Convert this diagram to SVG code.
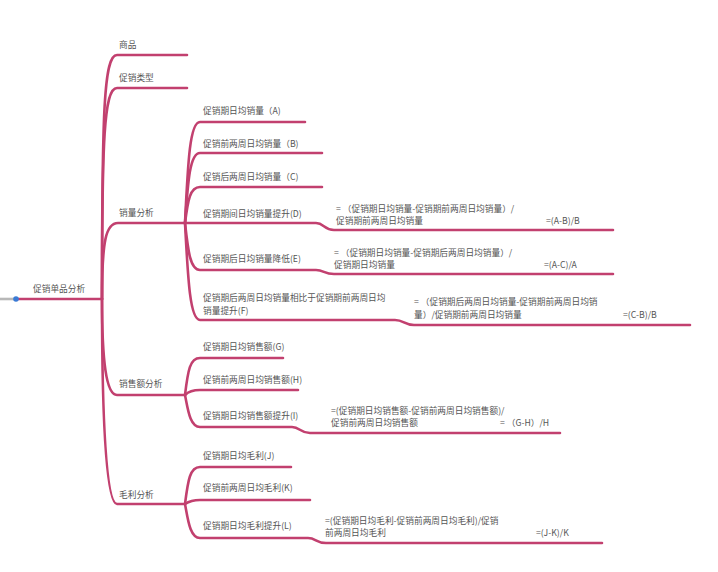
<svg xmlns="http://www.w3.org/2000/svg" width="718" height="572" viewBox="0 0 718 572">
<style>
.l{fill:none;stroke:#c2406f;stroke-width:2.6;stroke-linecap:round}
.t{font-family:"Noto Sans CJK SC","Liberation Sans",sans-serif;font-size:8.7px;fill:#555}
</style>
<rect width="718" height="572" fill="#fff"/>
<g id="connectors">
<line x1="0" y1="299" x2="16" y2="299" stroke="#b8b8b8" stroke-width="2.6"/>
<path class="l" d="M16,299 L102,299"/>
<path class="l" d="M102,299 C102,110 104,55 117,55 L187,55"/>
<path class="l" d="M102,299 C102,140 104,88 117,88 L187,88"/>
<path class="l" d="M102,299 C102,240 106,223 118,223 L185,223"/>
<path class="l" d="M102,299 C102,360 106,395 117,395 L185,395"/>
<path class="l" d="M102,299 C102,420 106,504 117,504 L185,504"/>
<path class="l" d="M185,223 C188,160 190,122 200,122 L305,122"/>
<path class="l" d="M185,223 C188,180 190,153 200,153 L322,153"/>
<path class="l" d="M185,223 C188,200 190,187 200,187 L322,187"/>
<path class="l" d="M185,223 L316,223 C324,223 324,230 334,230 L613,230"/>
<path class="l" d="M185,223 C188,250 190,270 200,270 L316,270 C324,270 324,274 334,274 L613,274"/>
<path class="l" d="M185,223 C188,280 190,320 200,320 L395,320 C404,320 404,325 414,325 L690,325"/>
<path class="l" d="M185,395 C188,370 190,358 200,358 L283,358"/>
<path class="l" d="M185,395 C188,392 192,390 200,390 L298,390"/>
<path class="l" d="M185,395 C188,410 190,427 200,427 L292,427 C300,427 300,433 310,433 L560,433"/>
<path class="l" d="M185,504 C188,480 190,467 200,467 L291,467"/>
<path class="l" d="M185,504 C188,502 192,500 200,500 L310,500"/>
<path class="l" d="M185,504 C188,520 190,538 200,538 L308,538 C316,538 316,543 326,543 L602,543"/>
<circle cx="16" cy="299" r="2.8" fill="#3a7bd5"/>
</g>
<g id="root"><text class="t" x="33" y="292">促销单品分析</text></g>
<g id="n-shangpin"><text class="t" x="119" y="48">商品</text></g>
<g id="n-leixing"><text class="t" x="119" y="81">促销类型</text></g>
<g id="n-xiaoliang"><text class="t" x="119" y="216">销量分析</text></g>
<g id="n-xse"><text class="t" x="119" y="387">销售额分析</text></g>
<g id="n-maoli"><text class="t" x="119" y="498">毛利分析</text></g>
<g id="n-A"><text class="t" x="203" y="114">促销期日均销量（A)</text></g>
<g id="n-B"><text class="t" x="203" y="147">促销前两周日均销量（B)</text></g>
<g id="n-C"><text class="t" x="203" y="180">促销后两周日均销量（C)</text></g>
<g id="n-D"><text class="t" x="203" y="217">促销期间日均销量提升(D)</text>
<text class="t" x="336" y="212">= （促销期日均销量-促销期前两周日均销量）/</text>
<text class="t" x="336" y="224">促销期前两周日均销量</text>
<text class="t" x="546" y="224">=(A-B)/B</text></g>
<g id="n-E"><text class="t" x="203" y="262">促销期后日均销量降低(E)</text>
<text class="t" x="334" y="256">= （促销期日均销量-促销期后两周日均销量）/</text>
<text class="t" x="334" y="268">促销期日均销量</text>
<text class="t" x="544" y="268">=(A-C)/A</text></g>
<g id="n-F"><text class="t" x="203" y="301">促销期后两周日均销量相比于促销期前两周日均</text>
<text class="t" x="203" y="314">销量提升(F)</text>
<text class="t" x="414" y="305">= （促销期后两周日均销量-促销期前两周日均销</text>
<text class="t" x="414" y="318">量）/促销期前两周日均销量</text>
<text class="t" x="623" y="318">=(C-B)/B</text></g>
<g id="n-G"><text class="t" x="203" y="350">促销期日均销售额(G)</text></g>
<g id="n-H"><text class="t" x="203" y="383">促销前两周日均销售额(H)</text></g>
<g id="n-I"><text class="t" x="203" y="419">促销期日均销售额提升(I)</text>
<text class="t" x="331" y="414">=(促销期日均销售额-促销前两周日均销售额)/</text>
<text class="t" x="331" y="426">促销前两周日均销售额</text>
<text class="t" x="500" y="426">= （G-H）/H</text></g>
<g id="n-J"><text class="t" x="203" y="459">促销期日均毛利(J)</text></g>
<g id="n-K"><text class="t" x="203" y="491">促销前两周日均毛利(K)</text></g>
<g id="n-L"><text class="t" x="203" y="529">促销期日均毛利提升(L)</text>
<text class="t" x="325" y="524">=(促销期日均毛利-促销前两周日均毛利)/促销</text>
<text class="t" x="325" y="536">前两周日均毛利</text>
<text class="t" x="536" y="536">=(J-K)/K</text></g>
</svg>
